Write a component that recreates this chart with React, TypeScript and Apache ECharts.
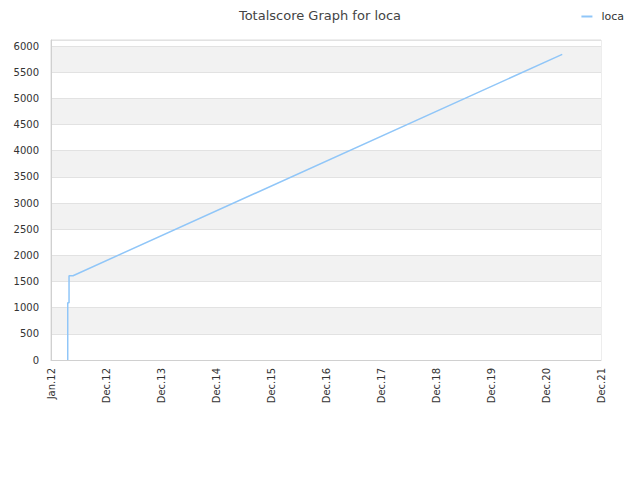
import React, { useEffect, useRef } from "react";
import * as echarts from "echarts";

const tickLabels = ["Jan.12", "Dec.12", "Dec.13", "Dec.14", "Dec.15", "Dec.16", "Dec.17", "Dec.18", "Dec.19", "Dec.20", "Dec.21"];
// x positions in tick-interval units (0 = Jan.12, 10 = Dec.21)
const xPos = [0.304, 0.304, 0.328, 0.328, 0.4, 0.41, 9.295];
const scores = [0, 1095, 1095, 1611, 1611, 1605, 5840];

export default function App() {
  const ref = useRef<HTMLDivElement>(null);
  useEffect(() => {
    if (!ref.current) return;
    const chart = echarts.init(ref.current, undefined, { renderer: "svg" });
    const font = "DejaVu Sans";
    chart.setOption({
      animation: false,
      title: {
        text: "Totalscore Graph for loca",
        left: "center",
        top: 4,
        textStyle: { fontFamily: font, fontSize: 13, fontWeight: "normal", color: "#444" },
      },
      legend: {
        right: 11,
        top: 6,
        itemWidth: 11,
        itemHeight: 2,
        icon: "rect",
        textStyle: { fontFamily: font, fontSize: 11, color: "#333", padding: [0, 0, 0, 4] },
        data: ["loca"],
      },
      grid: {
        left: 51,
        right: 39,
        top: 40,
        bottom: 120,
        show: true,
        backgroundColor: "#f2f2f2",
        borderColor: "#dcdcdc",
        borderWidth: 1,
      },
      xAxis: {
        type: "value",
        min: 0,
        max: tickLabels.length - 1,
        interval: 1,
        axisLine: { show: true, lineStyle: { color: "#d0d0d0" } },
        axisTick: { show: false },
        splitLine: { show: false },
        axisLabel: {
          rotate: 90,
          fontFamily: font,
          fontSize: 10,
          color: "#333",
          margin: 8,
          formatter: (v: number) => tickLabels[Math.round(v)] ?? "",
        },
      },
      yAxis: {
        type: "value",
        min: 0,
        max: 6115,
        interval: 500,
        axisLine: { show: true, lineStyle: { color: "#d0d0d0" } },
        axisTick: { show: false },
        splitLine: { show: true, lineStyle: { color: "#e2e2e2" } },
        splitArea: { show: true, areaStyle: { color: ["#ffffff", "#f2f2f2"] } },
        axisLabel: {
          fontFamily: font,
          fontSize: 10,
          color: "#333",
          margin: 12,
          formatter: (v: number) => String(v),
        },
      },
      series: [
        {
          name: "loca",
          type: "line",
          data: xPos.map((x, i) => [x, scores[i]]),
          showSymbol: false,
          symbol: "none",
          lineStyle: { color: "#90c6f8", width: 1.5 },
          itemStyle: { color: "#90c6f8" },
        },
      ],
    });
    return () => chart.dispose();
  }, []);
  return <div ref={ref} style={{ width: 640, height: 480, position: "absolute", left: 0, top: 0 }} />;
}
